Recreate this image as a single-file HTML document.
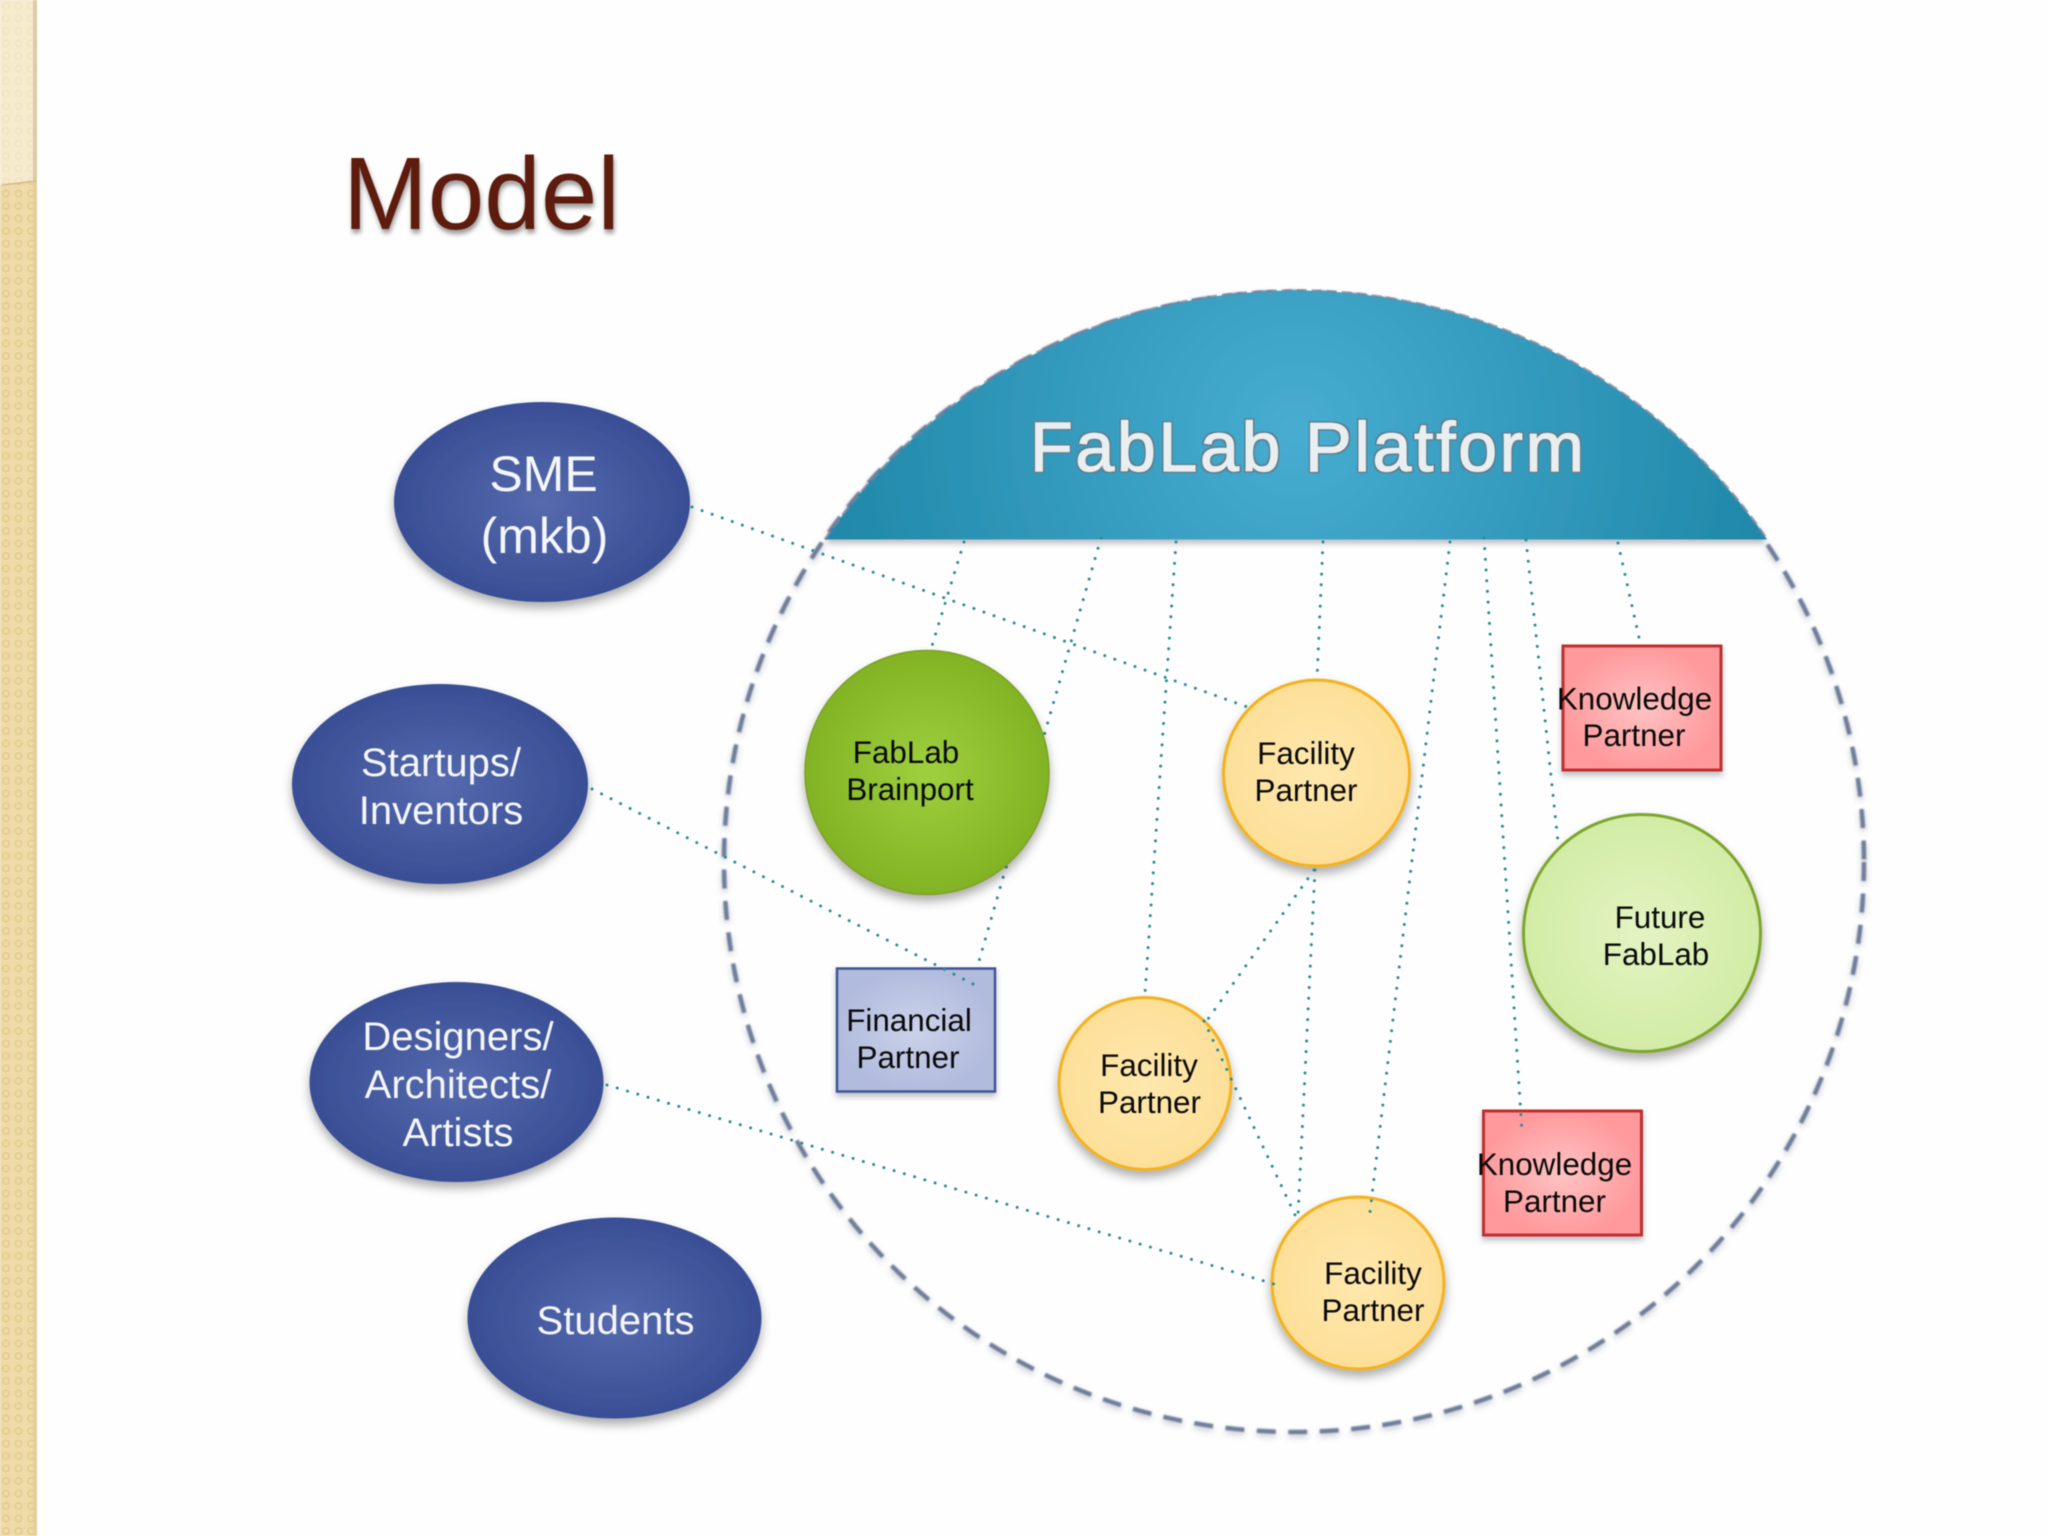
<!DOCTYPE html>
<html><head><meta charset="utf-8"><title>Model</title>
<style>html,body{margin:0;padding:0;background:#fdfefd}svg{display:block;filter:blur(.45px)}text{font-family:"Liberation Sans",sans-serif}</style></head>
<body>
<svg width="2048" height="1536" viewBox="0 0 2048 1536" xmlns="http://www.w3.org/2000/svg">
<defs>
<pattern id="pat" width="12.5" height="12.5" patternUnits="userSpaceOnUse"><rect width="12.5" height="12.5" fill="#eedba8"/><circle cx="6" cy="6" r="3.2" fill="none" stroke="#e2c98a" stroke-width="1.3"/></pattern>
<pattern id="pat2" width="12.5" height="12.5" patternUnits="userSpaceOnUse"><rect width="12.5" height="12.5" fill="#f6ebcd"/><circle cx="6" cy="6" r="3.2" fill="none" stroke="#f0e2bb" stroke-width="1.2"/></pattern>
<filter id="sh" x="-20%" y="-20%" width="140%" height="140%"><feDropShadow dx="0" dy="6" stdDeviation="5" flood-color="#000" flood-opacity=".32"/></filter>
<filter id="ts" x="-10%" y="-10%" width="120%" height="130%"><feDropShadow dx="1" dy="4" stdDeviation="2.5" flood-color="#000" flood-opacity=".4"/></filter>
<filter id="sh2" x="-10%" y="-10%" width="120%" height="120%"><feDropShadow dx="0" dy="4" stdDeviation="3" flood-color="#334" flood-opacity=".3"/></filter>
<filter id="dsh" x="-5%" y="-5%" width="110%" height="110%"><feGaussianBlur stdDeviation=".7" result="b"/><feDropShadow in="b" dx="0" dy="3" stdDeviation="3" flood-color="#446" flood-opacity=".3"/></filter>
<filter id="outl" x="-5%" y="-10%" width="110%" height="120%"><feMorphology in="SourceAlpha" operator="dilate" radius="1.3" result="d"/><feFlood flood-color="#5f7f8f"/><feComposite in2="d" operator="in" result="o"/><feMerge><feMergeNode in="o"/><feMergeNode in="SourceGraphic"/></feMerge></filter>
<radialGradient id="navy"><stop offset="0" stop-color="#566aad"/><stop offset="1" stop-color="#394e95"/></radialGradient>
<radialGradient id="green"><stop offset="0" stop-color="#9ed03e"/><stop offset="1" stop-color="#82b324"/></radialGradient>
<radialGradient id="lgreen"><stop offset="0" stop-color="#e3f4c2"/><stop offset="1" stop-color="#d2eca6"/></radialGradient>
<radialGradient id="yel"><stop offset="0" stop-color="#ffe8ae"/><stop offset="1" stop-color="#fddf98"/></radialGradient>
<radialGradient id="red"><stop offset="0" stop-color="#ffc3c3"/><stop offset="1" stop-color="#ff999c"/></radialGradient>
<radialGradient id="blue"><stop offset="0" stop-color="#cbd2ea"/><stop offset="1" stop-color="#b1bbdd"/></radialGradient>
<radialGradient id="cap" gradientUnits="userSpaceOnUse" cx="1296" cy="430" r="490"><stop offset="0" stop-color="#47add1"/><stop offset="1" stop-color="#1f87a8"/></radialGradient>
</defs>
<rect width="2048" height="1536" fill="#fdfefd"/>
<!-- sidebar -->
<rect x="0" y="0" width="37" height="1536" fill="url(#pat)"/>
<rect x="33" y="0" width="4" height="1536" fill="#e3cf97"/>
<path d="M0 0H37V182L3 185H0Z" fill="url(#pat2)"/>
<path d="M33 0H37V182H33Z" fill="#dccba2"/>
<path d="M2 185L36 181" stroke="#cdb98a" stroke-width="1.5" fill="none"/>
<!-- title -->
<text x="343" y="229" font-size="103" fill="#5d1f0f" filter="url(#ts)" textLength="277" lengthAdjust="spacingAndGlyphs">Model</text>
<!-- big dashed circle -->
<circle cx="1294" cy="862" r="570" fill="none" stroke="#6f7d9a" stroke-width="4.500" stroke-dasharray="19 12.500" filter="url(#dsh)"/>
<!-- platform segment -->
<path d="M825 539.500A570 570 0 0 1 1767 539.500Z" fill="url(#cap)" filter="url(#sh2)"/>
<path d="M825 539.500A570 570 0 0 1 1767 539.500" fill="none" stroke="#6f86a0" stroke-width="3" stroke-dasharray="10 5" opacity=".7"/>
<text x="1030" y="471" font-size="70" fill="#e9eff1" stroke="#e9eff1" stroke-width="1.2" letter-spacing="2.600" filter="url(#outl)">FabLab Platform</text>
<!-- dotted line behind the green circle -->
<g fill="none" stroke="#2a8a96" stroke-width="3" stroke-linecap="round" stroke-dasharray="0 10.700">
<line x1="1101" y1="538" x2="977" y2="968"/>
</g>
<!-- blue ellipses -->
<g fill="url(#navy)" filter="url(#sh)">
<ellipse cx="542" cy="502" rx="148" ry="100"/>
<ellipse cx="440" cy="784" rx="148" ry="100"/>
<ellipse cx="456.500" cy="1082" rx="147" ry="100"/>
<ellipse cx="614.500" cy="1318" rx="147" ry="100.500"/>
</g>
<!-- nodes -->
<circle cx="927" cy="772.500" r="122" fill="url(#green)" stroke="#7f9f2a" stroke-width="1.500" filter="url(#sh)"/>
<circle cx="1316.500" cy="773" r="93" fill="url(#yel)" stroke="#f4b21f" stroke-width="3" filter="url(#sh)"/>
<circle cx="1145" cy="1083.500" r="86" fill="url(#yel)" stroke="#f4b21f" stroke-width="3" filter="url(#sh)"/>
<circle cx="1358" cy="1283" r="86" fill="url(#yel)" stroke="#f4b21f" stroke-width="3" filter="url(#sh)"/>
<circle cx="1642" cy="933" r="118.500" fill="url(#lgreen)" stroke="#7fa52e" stroke-width="3" filter="url(#sh)"/>
<rect x="1563" y="646" width="158" height="124" fill="url(#red)" stroke="#c22f2f" stroke-width="3" filter="url(#sh2)"/>
<rect x="1483.500" y="1111" width="158" height="124" fill="url(#red)" stroke="#c22f2f" stroke-width="3" filter="url(#sh2)"/>
<rect x="837" y="968.500" width="158" height="123" fill="url(#blue)" stroke="#3f5596" stroke-width="2.500" filter="url(#sh2)"/>
<!-- dotted connectors -->
<g fill="none" stroke="#2a8a96" stroke-width="3" stroke-linecap="round" stroke-dasharray="0 10.700">
<line x1="692" y1="507" x2="1253" y2="709"/>
<line x1="592" y1="789" x2="973" y2="984"/>
<line x1="607" y1="1085" x2="1274" y2="1284"/>
<line x1="964" y1="542" x2="931" y2="649"/>
<line x1="1176" y1="542" x2="1145" y2="993"/>
<line x1="1323" y1="542" x2="1317" y2="679"/>
<line x1="1450" y1="542" x2="1370" y2="1212"/>
<line x1="1484" y1="538" x2="1522" y2="1132"/>
<line x1="1526" y1="540" x2="1558" y2="842"/>
<line x1="1618" y1="543" x2="1640" y2="642"/>
<line x1="1314" y1="870" x2="1208" y2="1019"/>
<line x1="1315" y1="870" x2="1298" y2="1215"/>
<line x1="1204" y1="1021" x2="1296" y2="1217"/>
</g>
<!-- labels -->
<g fill="#f4f6fb" text-anchor="middle">
<text x="543.500" y="491" font-size="50">SME</text>
<text x="544.500" y="553" font-size="50">(mkb)</text>
<text x="441" y="776" font-size="40">Startups/</text>
<text x="441" y="824" font-size="40">Inventors</text>
<text x="458" y="1050" font-size="40">Designers/</text>
<text x="458" y="1098" font-size="40">Architects/</text>
<text x="458" y="1146" font-size="40">Artists</text>
<text x="615.500" y="1334" font-size="40">Students</text>
</g>
<g fill="#0a0a0a" text-anchor="middle" font-size="31.400">
<text x="906" y="763">FabLab</text><text x="910" y="800">Brainport</text>
<text x="1306" y="764">Facility</text><text x="1306" y="801">Partner</text>
<text x="1149" y="1076">Facility</text><text x="1149.500" y="1113">Partner</text>
<text x="1373" y="1284">Facility</text><text x="1373" y="1321">Partner</text>
<text x="1660" y="928">Future</text><text x="1656" y="965">FabLab</text>
<text x="1634.500" y="709.500">Knowledge</text><text x="1634" y="746">Partner</text>
<text x="1554.500" y="1175">Knowledge</text><text x="1554.500" y="1212">Partner</text>
<text x="909" y="1031">Financial</text><text x="908" y="1068">Partner</text>
</g>
</svg>
</body></html>
